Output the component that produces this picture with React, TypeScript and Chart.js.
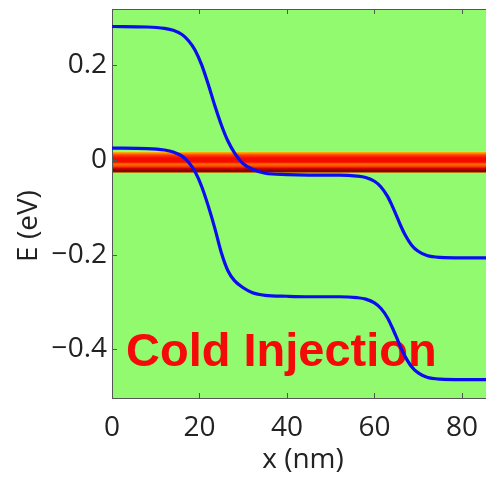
import { useEffect, useRef } from 'react';
import { Chart, registerables } from 'chart.js';

Chart.register(...registerables);

// Sample positions along the channel (nm)
const upperX = [0, 8, 12, 14, 16, 17.5, 19, 20.5, 22, 23.5, 25, 26.5, 28, 30, 32, 35, 40, 45, 52, 56, 58, 60, 61.5, 63, 64, 65, 66, 67, 68.5, 70, 72, 75, 80, 85.5];
// Upper band edge energy (eV)
const upperE = [0.282, 0.281, 0.278, 0.274, 0.265, 0.252, 0.232, 0.201, 0.16, 0.115, 0.074, 0.04, 0.015, -0.008, -0.019, -0.028, -0.031, -0.032, -0.032, -0.034, -0.037, -0.045, -0.057, -0.077, -0.096, -0.117, -0.139, -0.158, -0.18, -0.193, -0.202, -0.206, -0.207, -0.207];

const lowerX = [0, 8, 12, 14, 16, 17.5, 19, 20.5, 22, 23.5, 25, 26.5, 28, 30, 32, 35, 40, 45, 52, 56, 58, 60, 61.5, 63, 64, 65, 66, 67, 68.5, 70, 72, 75, 80, 85.5];
// Lower band edge energy (eV)
const lowerE = [0.025, 0.024, 0.021, 0.017, 0.008, -0.005, -0.025, -0.056, -0.097, -0.144, -0.196, -0.234, -0.255, -0.27, -0.28, -0.286, -0.288, -0.289, -0.289, -0.291, -0.294, -0.302, -0.314, -0.334, -0.353, -0.374, -0.396, -0.415, -0.437, -0.45, -0.459, -0.463, -0.464, -0.464];

// Injected-carrier density map around E = 0 (energy stops, top to bottom, with colour)
const bandE = [0.02, 0.0185, 0.015, 0.01, 0.004, -0.004, -0.009, -0.014, -0.018, -0.022, -0.0255, -0.0275, -0.0295];
const bandColors = [
  'rgb(146,250,110)',
  'rgb(255,238,0)',
  'rgb(255,150,0)',
  'rgb(255,60,0)',
  'rgb(245,10,0)',
  'rgb(245,10,0)',
  'rgb(255,110,0)',
  'rgb(250,60,0)',
  'rgb(210,0,0)',
  'rgb(130,0,0)',
  'rgb(150,0,0)',
  'rgb(220,230,40)',
  'rgb(146,250,110)',
];

const xTickStep = 20;
const yTickStep = 0.2;
const X_MIN = 0;
const X_MAX = 85.5;
const E_MIN = -0.503;
const E_MAX = 0.319;

const annotationText = 'Cold Injection';
const annotationAt = { x: 3.2, e: -0.435 };
const xTitle = 'x (nm)';
const yTitle = 'E (eV)';

const FIELD_GREEN = 'rgb(146,250,110)';
const CURVE_BLUE = 'rgb(12,12,240)';
const AXIS_GREY = '#555';
const LABEL_FONT = "'Open Sans', 'DejaVu Sans', sans-serif";

const fmtTick = (v: number) => {
  if (Math.abs(v) < 1e-9) return '0';
  const s = Math.abs(v).toFixed(1);
  return v < 0 ? '\u2212' + s : s;
};

const toPoints = (xs: number[], es: number[]) => xs.map((x, i) => ({ x, y: es[i] }));

const noEdgePadding = (s: any) => {
  s.paddingTop = 0;
  s.paddingBottom = 0;
  s.paddingLeft = 0;
  s.paddingRight = 0;
};

const decorations = {
  id: 'decorations',
  beforeDraw(chart: any) {
    const { ctx, chartArea: a, scales } = chart;
    const y = scales.y;
    ctx.save();
    ctx.fillStyle = FIELD_GREEN;
    ctx.fillRect(a.left, a.top, a.right - a.left, a.bottom - a.top);
    const yTop = y.getPixelForValue(bandE[0]);
    const yBot = y.getPixelForValue(bandE[bandE.length - 1]);
    const g = ctx.createLinearGradient(0, yTop, 0, yBot);
    bandE.forEach((e, i) => {
      g.addColorStop((y.getPixelForValue(e) - yTop) / (yBot - yTop), bandColors[i]);
    });
    ctx.fillStyle = g;
    ctx.fillRect(a.left, yTop, a.right - a.left, yBot - yTop);
    ctx.restore();
  },
  beforeDatasetsDraw(chart: any) {
    const { ctx, scales } = chart;
    ctx.save();
    ctx.font = "bold 47px 'Liberation Sans', Arial, sans-serif";
    ctx.fillStyle = 'rgb(245,10,10)';
    ctx.textAlign = 'left';
    ctx.textBaseline = 'alphabetic';
    ctx.fillText(annotationText, scales.x.getPixelForValue(annotationAt.x), scales.y.getPixelForValue(annotationAt.e));
    ctx.restore();
  },
  afterDraw(chart: any) {
    const { ctx, chartArea: a, scales } = chart;
    ctx.save();
    ctx.strokeStyle = AXIS_GREY;
    ctx.lineWidth = 1;
    // top frame line
    ctx.beginPath();
    ctx.moveTo(a.left, a.top + 0.5);
    ctx.lineTo(a.right, a.top + 0.5);
    ctx.stroke();
    // inward tick marks
    ctx.beginPath();
    scales.x.ticks.forEach((t: any) => {
      const px = Math.round(scales.x.getPixelForValue(t.value)) + 0.5;
      ctx.moveTo(px, a.bottom);
      ctx.lineTo(px, a.bottom - 5);
      ctx.moveTo(px, a.top);
      ctx.lineTo(px, a.top + 5);
    });
    scales.y.ticks.forEach((t: any) => {
      const py = Math.round(scales.y.getPixelForValue(t.value)) + 0.5;
      ctx.moveTo(a.left, py);
      ctx.lineTo(a.left + 5, py);
    });
    ctx.stroke();
    // axis titles
    ctx.fillStyle = '#222';
    ctx.font = `28px ${LABEL_FONT}`;
    ctx.textAlign = 'center';
    ctx.textBaseline = 'alphabetic';
    ctx.fillText(xTitle, (a.left + a.right) / 2 + 4, 468);
    ctx.translate(37, 226);
    ctx.rotate(-Math.PI / 2);
    ctx.fillText(yTitle, 0, 0);
    ctx.restore();
  },
};

export default function App() {
  const canvasRef = useRef<HTMLCanvasElement | null>(null);

  useEffect(() => {
    const canvas = canvasRef.current;
    if (!canvas) return;
    const chart = new Chart(canvas, {
      type: 'line',
      data: {
        datasets: [
          {
            data: toPoints(upperX, upperE),
            borderColor: CURVE_BLUE,
            borderWidth: 3.2,
            pointRadius: 0,
            cubicInterpolationMode: 'monotone',
            fill: false,
          },
          {
            data: toPoints(lowerX, lowerE),
            borderColor: CURVE_BLUE,
            borderWidth: 3.2,
            pointRadius: 0,
            cubicInterpolationMode: 'monotone',
            fill: false,
          },
        ],
      },
      options: {
        animation: false,
        responsive: false,
        devicePixelRatio: 1,
        layout: { padding: { top: 9, right: 0, left: 0, bottom: 0 } },
        plugins: { legend: { display: false }, tooltip: { enabled: false } },
        scales: {
          x: {
            type: 'linear',
            min: X_MIN,
            max: X_MAX,
            grid: { display: false, drawTicks: false },
            border: { display: true, color: AXIS_GREY, width: 1 },
            ticks: {
              stepSize: xTickStep,
              includeBounds: false,
              padding: 13,
              color: '#222',
              font: { family: LABEL_FONT, size: 28 },
              maxRotation: 0,
              autoSkip: false,
              callback: (v: any) => String(Math.round(Number(v))),
            },
            afterFit: (s: any) => {
              s.height = 80;
              noEdgePadding(s);
            },
          },
          y: {
            type: 'linear',
            min: E_MIN,
            max: E_MAX,
            grid: { display: false, drawTicks: false },
            border: { display: true, color: AXIS_GREY, width: 1 },
            ticks: {
              stepSize: yTickStep,
              includeBounds: false,
              padding: 5,
              color: '#222',
              font: { family: LABEL_FONT, size: 28 },
              autoSkip: false,
              callback: (v: any) => fmtTick(Number(v)),
            },
            afterFit: (s: any) => {
              s.width = 112;
              noEdgePadding(s);
            },
          },
        },
      },
      plugins: [decorations],
    });
    return () => chart.destroy();
  }, []);

  return (
    <div style={{ position: 'absolute', left: 0, top: 0, width: 486, height: 478, background: '#fff' }}>
      <canvas ref={canvasRef} width={486} height={478} />
    </div>
  );
}
